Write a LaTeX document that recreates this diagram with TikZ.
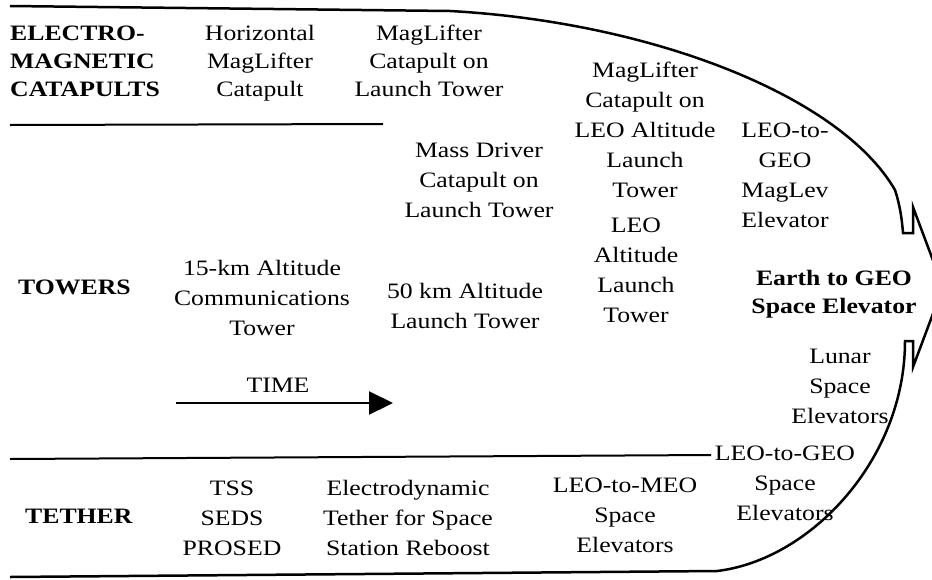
\documentclass[tikz,border=0pt]{standalone}
\usepackage{fontspec}
\setmainfont{Liberation Serif}[FakeStretch=1.17]
\usetikzlibrary{arrows.meta}

\begin{document}
\begin{tikzpicture}[
  x=1pt, y=-1pt,
  lbl/.style={align=center, inner sep=0pt, anchor=base, font=\fontsize{22}{30}\selectfont},
  toplbl/.style={lbl, font=\fontsize{22}{28}\selectfont},
  head/.style={align=left, inner sep=0pt, anchor=base west, font=\fontsize{22}{30}\selectfont\bfseries},
  rule/.style={line width=2pt},
]
\useasboundingbox (0,0) rectangle (932,579);
% outline with arrow head
\draw[line width=2.5pt, line join=miter]
  (10,6) -- (450,11) .. controls (650,22) and (840,95) .. (895,190)
  .. controls (900,205) and (902,220) .. (903,233) -- (913,233) -- (913,207)
  -- (943,287) -- (913,367) -- (913,341) -- (905,341)
  .. controls (905,460) and (810,560) .. (717,571) -- (10,577);
% rules
\coordinate (r1a) at (10,125);
\coordinate (r1b) at (383,124);
\draw[rule] (r1a) -- (r1b);
\coordinate (r2a) at (10,459);
\coordinate (r2b) at (711,455);
\draw[rule] (r2a) -- (r2b);
% electromagnetic catapults (node base = last line)
\node[head, font=\fontsize{22}{28}\selectfont\bfseries] (elec) at (10,96) {ELECTRO-\\MAGNETIC\\CATAPULTS};
\node[toplbl] (horiz) at (260,96) {Horizontal\\MagLifter\\Catapult};
\node[toplbl] (magtow) at (429,96) {MagLifter\\Catapult on\\Launch Tower};
\node[lbl] (mass) at (479,217) {Mass Driver\\Catapult on\\Launch Tower};
\node[lbl] (magleo) at (645,197) {MagLifter\\Catapult on\\LEO Altitude\\Launch\\Tower};
\node[lbl] (maglev) at (785,227) {LEO-to-\\GEO\\MagLev\\Elevator};
% towers
\node[head] (towers) at (18,294) {TOWERS};
\node[lbl] (comm) at (262,335) {15-km Altitude\\Communications\\Tower};
\node[lbl] (tow50) at (465,328) {50 km Altitude\\Launch Tower};
\node[lbl] (towleo) at (636,322) {LEO\\Altitude\\Launch\\Tower};
\node[lbl, font=\fontsize{22}{28}\selectfont\bfseries] (earth) at (834,313) {Earth to GEO\\Space Elevator};
\node[lbl] (lunar) at (840,423) {Lunar\\Space\\Elevators};
% time arrow
\node[lbl] (time) at (278,392) {TIME};
\coordinate (t1) at (176,403);
\coordinate (t2) at (393,403);
\draw[line width=2.2pt, -{Triangle[length=24pt,width=23pt]}] (t1) -- (t2);
% tether
\node[head] (tether) at (25,523) {TETHER};
\node[lbl] (tss) at (232,555) {TSS\\SEDS\\PROSED};
\node[lbl] (edyn) at (408,555) {Electrodynamic\\Tether for Space\\Station Reboost};
\node[lbl] (leomeo) at (625,552) {LEO-to-MEO\\Space\\Elevators};
\node[lbl] (leogeo) at (785,520) {LEO-to-GEO\\Space\\Elevators};
\end{tikzpicture}
\end{document}
